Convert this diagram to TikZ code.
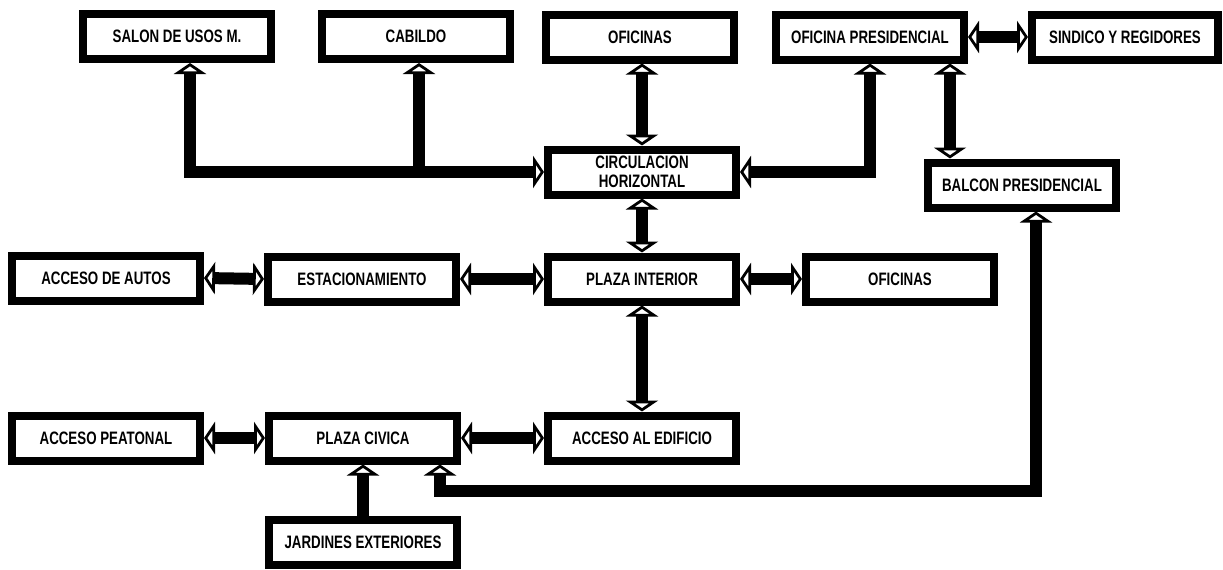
\documentclass[tikz,border=0pt]{standalone}
\usepackage{fontspec}
\setmainfont[FakeStretch=0.74]{Liberation Sans}
\usetikzlibrary{arrows.meta}
\tikzset{
  box/.style={draw=black, line width=8pt, fill=white, minimum width=188pt, minimum height=45pt,
    inner sep=0pt, align=center, font=\fontsize{18}{19}\selectfont\bfseries},
  head/.tip={Triangle[width=32pt, length=11pt, fill=white, line width=3.5pt]},
  conn/.style={draw=black, line width=12pt, line join=miter},
  both/.style={conn, head-head},
  one/.style={conn, -head}
}
\begin{document}
\begin{tikzpicture}[x=1pt, y=-1pt]
\useasboundingbox (0,0) rectangle (1223,570);
% top row
\node[box] (salon)   at (177,36.5) {SALON DE USOS M.};
\node[box] (cabildo) at (416,36.5) {CABILDO};
\node[box] (ofi1)    at (640,37)   {OFICINAS};
\node[box] (ofpres)  at (870,37)   {OFICINA PRESIDENCIAL};
\node[box, minimum width=186pt] (sindico) at (1125,37) {SINDICO Y REGIDORES};
% second row
\node[box] (circ)    at (642,172)  {CIRCULACION\\HORIZONTAL};
\node[box] (balcon)  at (1022,185) {BALCON PRESIDENCIAL};
% third row
\node[box] (autos)   at (106,278)  {ACCESO DE AUTOS};
\node[box] (estac)   at (362,279)  {ESTACIONAMIENTO};
\node[box] (plazaint) at (642,279) {PLAZA INTERIOR};
\node[box] (ofi2)    at (900,279)  {OFICINAS};
% fourth row
\node[box] (peatonal) at (106,438) {ACCESO PEATONAL};
\node[box] (civica)  at (363,438)  {PLAZA CIVICA};
\node[box] (accedif) at (642,438)  {ACCESO AL EDIFICIO};
\node[box] (jardines) at (363,542) {JARDINES EXTERIORES};
% helper coordinates
\coordinate (s1) at (190,172);
\coordinate (c1) at (419,172);
\coordinate (bx) at (950,0);
\coordinate (f1) at (440,491);
\coordinate (f2) at (1036,491);
% connectors
\draw[both] (circ.west) -- (s1) -- (s1 |- salon.south);
\draw[one] (c1) -- (c1 |- cabildo.south);
\draw[both] (circ.north) -- (circ.north |- ofi1.south);
\draw[both] (circ.east) -| (ofpres.south);
\draw[both] (ofpres.east) -- (sindico.west);
\draw[both] (ofpres.south -| bx) -- (balcon.north -| bx);
\draw[both] (circ.south) -- (plazaint.north);
\draw[both] (autos.east) -- (estac.west);
\draw[both] (estac.east) -- (plazaint.west);
\draw[both] (plazaint.east) -- (ofi2.west);
\draw[both] (plazaint.south) -- (accedif.north);
\draw[both] (peatonal.east) -- (civica.west);
\draw[both] (civica.east) -- (accedif.west);
\draw[one] (jardines.north) -- (civica.south);
\draw[both] (civica.south -| f1) -- (f1) -- (f2) -- (f2 |- balcon.south);
\end{tikzpicture}
\end{document}
